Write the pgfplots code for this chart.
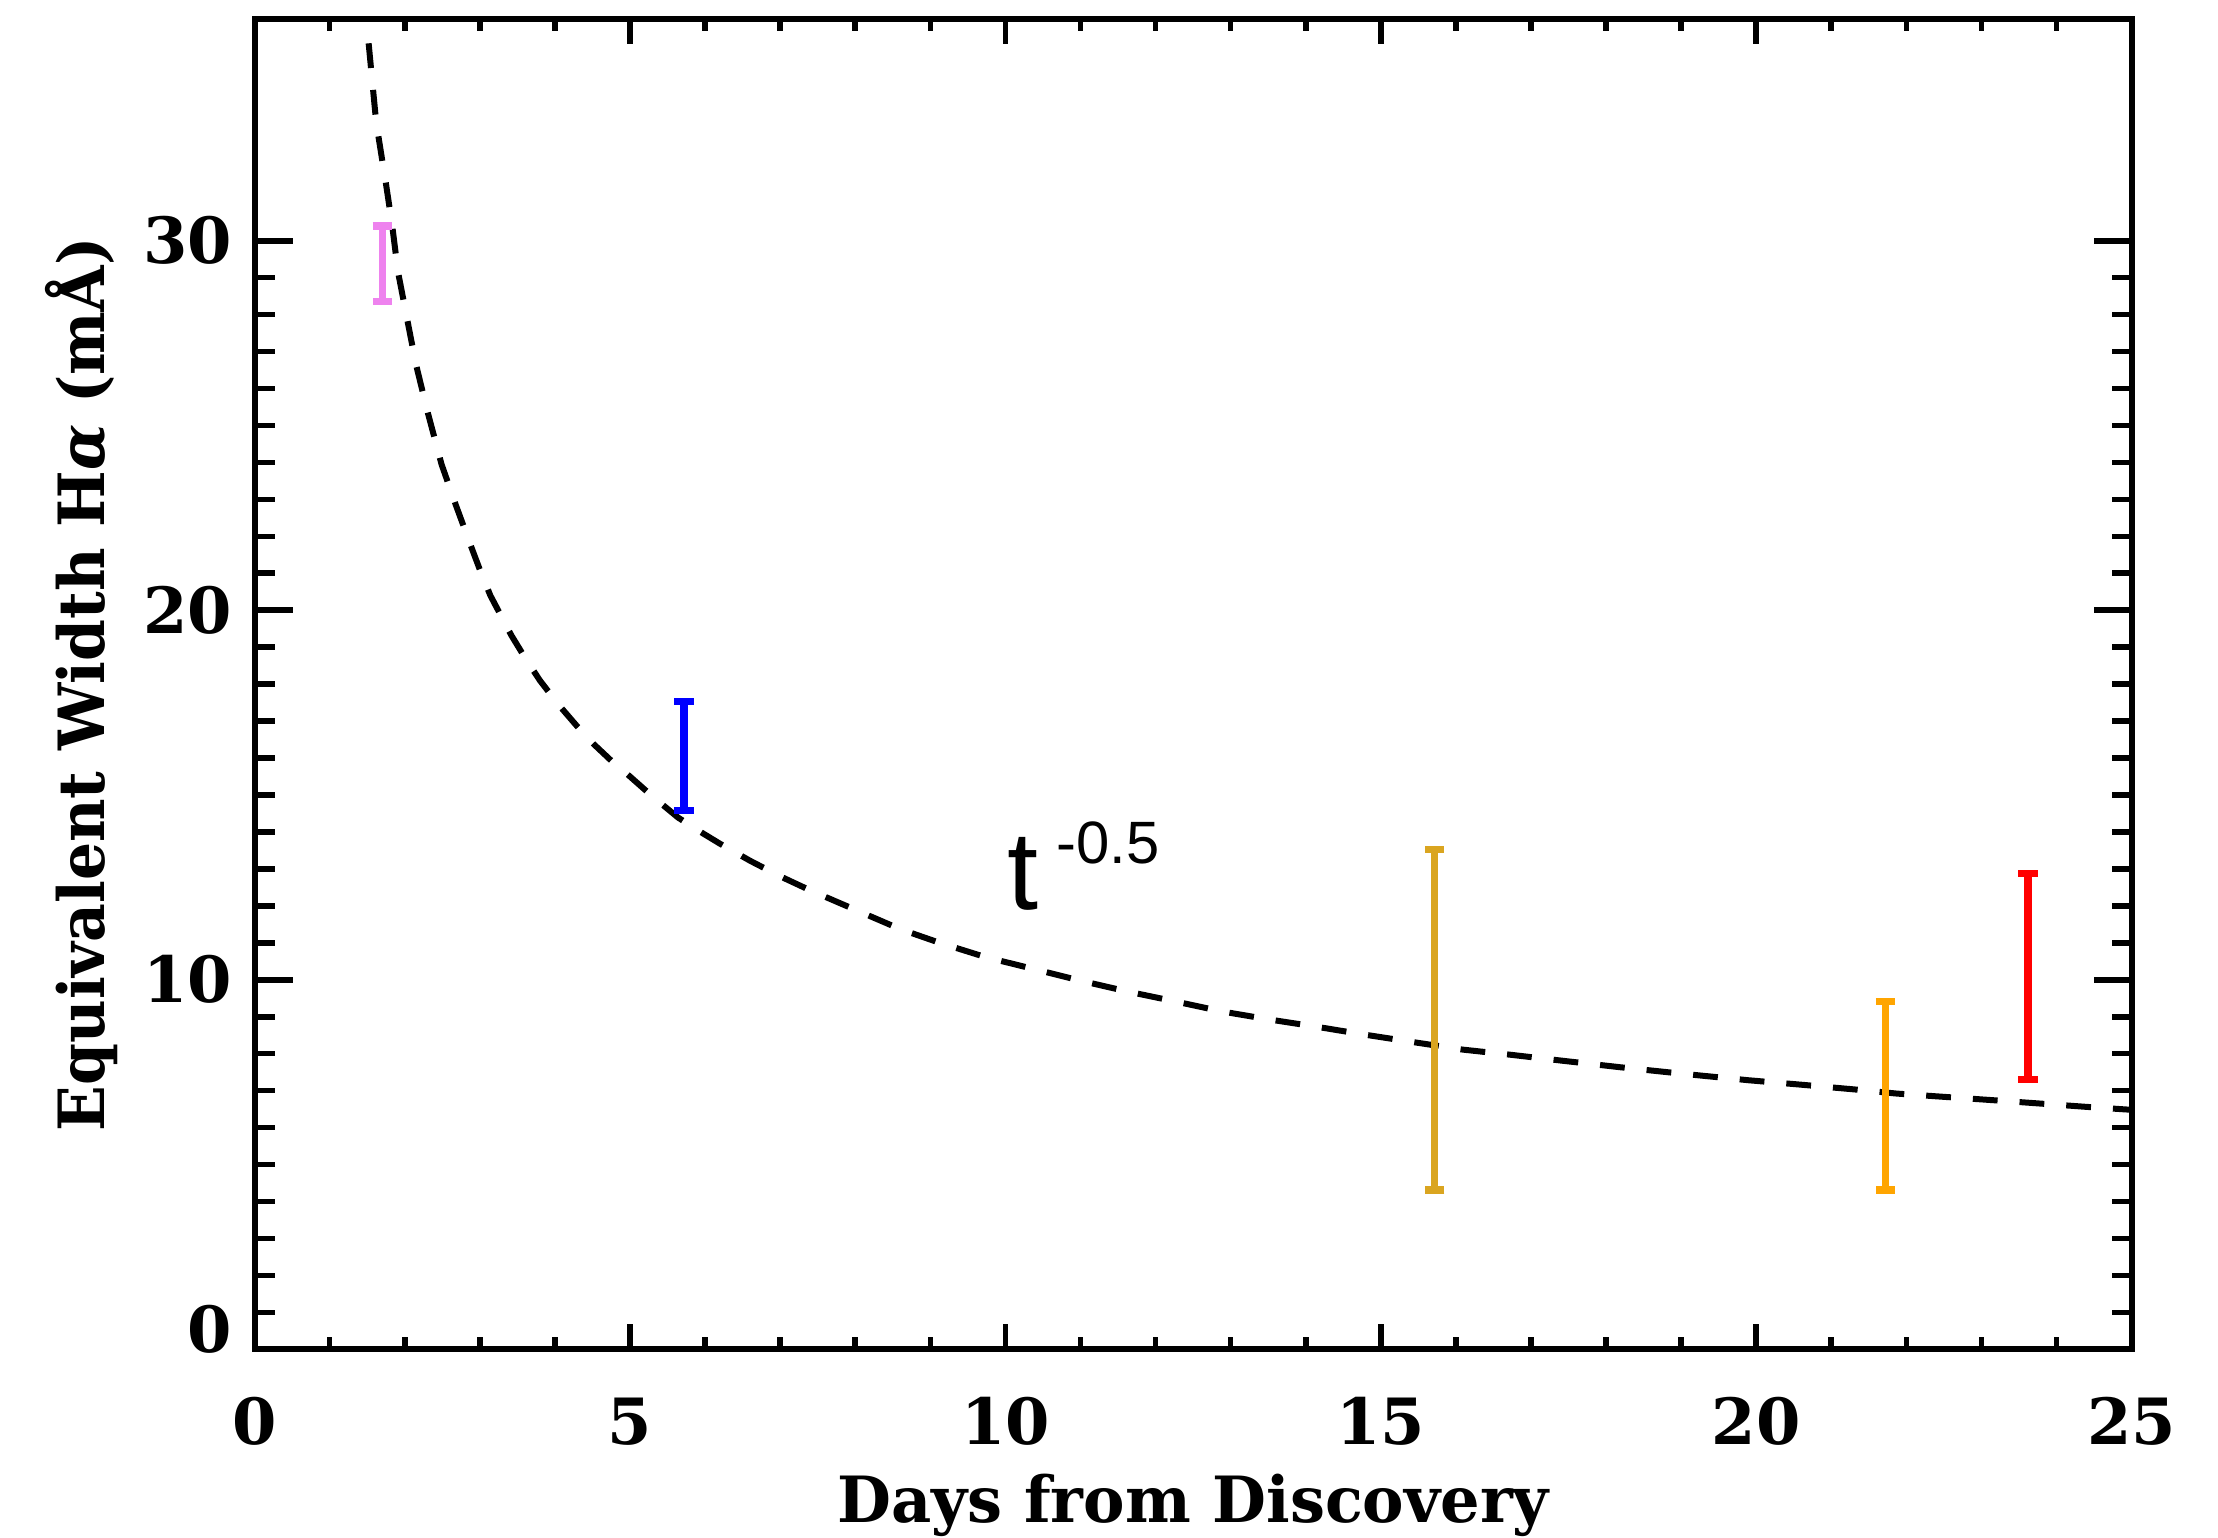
\documentclass[border=0pt]{standalone}
\usepackage{fontspec}
\setmainfont{DejaVu Serif}
\newfontfamily\ytitlefont{DejaVu Serif}[FakeStretch=0.94]
\newfontfamily\xtitlefont{DejaVu Serif}[FakeStretch=0.975]
\newfontfamily\labelfont{Liberation Sans}
\usepackage{pgfplots}
\pgfplotsset{compat=1.18}
\definecolor{cviolet}{RGB}{238,130,238}
\definecolor{cblue}{RGB}{0,0,255}
\definecolor{cgold}{RGB}{218,165,32}
\definecolor{corange}{RGB}{255,165,0}
\definecolor{cred}{RGB}{255,0,0}
\pgfplotsset{
  ebar/.style={draw=none, mark=none, forget plot,
    error bars/.cd, y dir=both, y explicit, error mark=-,
    error bar style={solid, draw=#1, line width=1.8bp},
    error mark options={rotate=90, solid, draw=#1, line width=1.8bp, mark size=2.4bp}}
}
\begin{document}
\begin{tikzpicture}
\useasboundingbox (-63.65bp,-47.15bp) rectangle (490.9bp,337.35bp);
\begin{axis}[
  scale only axis, width=469.3bp, height=332.6bp,
  xmin=0, xmax=25, ymin=0, ymax=36,
  xtick={0,5,10,15,20,25}, ytick={0,10,20,30},
  yticklabels={\raisebox{10bp}{0},10,20,30},
  minor x tick num=4, minor y tick num=9,
  axis line style={line width=1.5bp, line cap=rect},
  tick style={line width=1.4bp, black},
  xtick style={/pgfplots/major tick length=6.25bp, /pgfplots/minor tick length=3bp},
  ytick style={/pgfplots/major tick length=9.5bp, /pgfplots/minor tick length=5bp},
  /pgf/number format/assume math mode=true,
  ticklabel style={font=\bfseries\fontsize{16}{16}\selectfont},
  xticklabel style={anchor=north, inner sep=0pt, yshift=-11.9bp},
  yticklabel style={anchor=east, inner sep=0pt, xshift=-5.4bp},
  xlabel={Days from Discovery},
  ylabel={Equivalent Width H{\itshape α} (mÅ)},
  xlabel style={font=\xtitlefont\bfseries\fontsize{16}{16}\selectfont, at={(axis description cs:0.5,-0.0932)}, anchor=north, inner sep=0pt},
  ylabel style={font=\ytitlefont\bfseries\fontsize{16}{16}\selectfont, at={(axis description cs:-0.0921,0.5)}, anchor=center, inner sep=0pt},
]
\addplot[black, line width=1.5bp, dash pattern=on 6.2bp off 5.5bp, line join=round] coordinates {
(1.45,36.6) (1.50,35.75) (1.62,33.2) (1.75,31.54) (1.83,30.46) (1.91,29.16)
(2.03,27.9) (2.15,26.65) (2.30,25.4) (2.49,23.95) (2.68,22.85) (2.87,21.8)
(3.00,21.1) (3.14,20.4) (3.42,19.32) (3.60,18.72) (3.80,18.10) (4.05,17.44)
(4.30,16.85) (4.52,16.37) (4.75,15.93) (5.00,15.50) (5.20,15.14) (5.42,14.76)
(5.64,14.39) (5.90,14.05) (6.20,13.68) (6.60,13.22) (7.00,12.80) (7.40,12.42)
(7.80,12.07) (8.20,11.72) (8.60,11.37) (9.11,11.01)
(9.74,10.61) (10.38,10.29) (10.99,9.98) (11.63,9.68) (12.27,9.41) (12.89,9.14)
(13.53,8.92) (14.17,8.72) (14.80,8.51) (15.44,8.31) (16.09,8.11) (16.73,7.97)
(17.37,7.82) (18.20,7.63) (19.00,7.46) (19.90,7.28) (20.60,7.16) (21.32,7.03)
(21.87,6.92) (22.51,6.83) (23.16,6.74) (23.78,6.65) (24.40,6.56) (25.00,6.48)
};
\addplot[ebar=cviolet] coordinates {(1.70,29.375) +- (0,1.025)};
\addplot[ebar=cblue]   coordinates {(5.72,16.055) +- (0,1.465)};
\addplot[ebar=cgold]   coordinates {(15.72,8.915) +- (0,4.605)};
\addplot[ebar=corange] coordinates {(21.72,6.865) +- (0,2.555)};
\addplot[ebar=cred]    coordinates {(23.62,10.09) +- (0,2.79)};
\node[anchor=base west, inner sep=0pt, font=\labelfont\fontsize{28}{28}\selectfont]
  at (axis cs:10.02,11.91) {t\hspace{4.5bp}\raisebox{11.5bp}{\fontsize{15}{15}\selectfont -0.5}};
\end{axis}
\end{tikzpicture}
\end{document}
